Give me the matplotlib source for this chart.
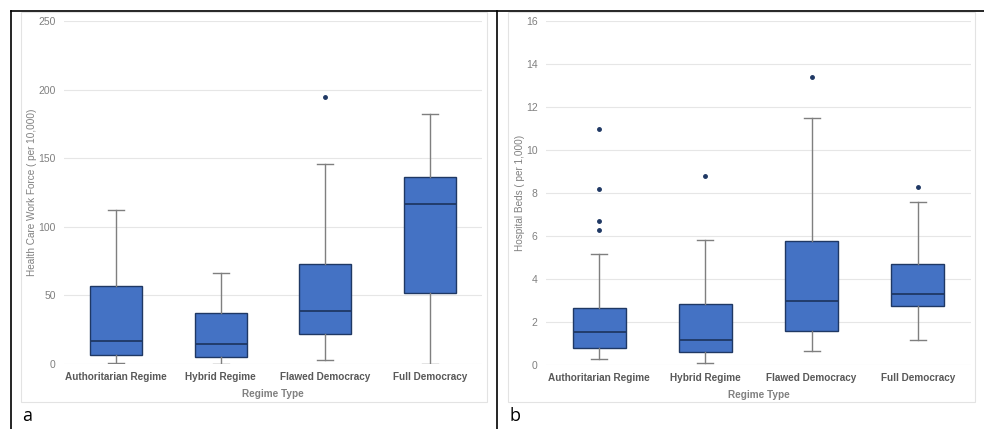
import matplotlib
matplotlib.use("Agg")
import matplotlib.pyplot as plt
from matplotlib.lines import Line2D
from matplotlib.patches import Rectangle

plt.rcParams['font.family'] = ['Liberation Sans', 'DejaVu Sans']

regimes = ["Authoritarian Regime", "Hybrid Regime", "Flawed Democracy", "Full Democracy"]

# panel a: health care work force (per 10,000)
hw_low = [0.7, 0.2, 2.9, 0.0]
hw_q1 = [6.3, 5.3, 21.6, 51.5]
hw_med = [16.5, 14.3, 38.6, 116.4]
hw_q3 = [56.6, 37.2, 72.6, 136.5]
hw_high = [112.5, 66.3, 145.5, 182.2]
hw_fliers = [[], [], [194.4], []]

# panel b: hospital beds (per 1,000)
hb_low = [0.26, 0.08, 0.67, 1.18]
hb_q1 = [0.78, 0.59, 1.57, 2.74]
hb_med = [1.52, 1.18, 2.99, 3.28]
hb_q3 = [2.66, 2.86, 5.79, 4.68]
hb_high = [5.18, 5.80, 11.51, 7.59]
hb_fliers = [[11.0, 8.18, 6.70, 6.28], [8.79], [13.39], [8.29]]

BOX = "#4472c4"
EDGE = "#1f3864"
WHISK = "#7f7f7f"
TXT = "#808080"
BOLD_TXT = "#595959"


def make_stats(low, q1, med, q3, high, fliers):
    stats = []
    for i in range(len(low)):
        stats.append({"whislo": low[i], "q1": q1[i], "med": med[i], "q3": q3[i],
                      "whishi": high[i], "fliers": fliers[i]})
    return stats


def draw_panel(ax, stats, ymax, ystep, ylabel):
    ax.bxp(stats, positions=range(len(stats)), widths=0.5, patch_artist=True,
           showfliers=True, capwidths=0.15,
           boxprops=dict(facecolor=BOX, edgecolor=EDGE, linewidth=1.0),
           medianprops=dict(color=EDGE, linewidth=1.3),
           whiskerprops=dict(color=WHISK, linewidth=1.0),
           capprops=dict(color=WHISK, linewidth=1.0),
           flierprops=dict(marker="o", markersize=2.5, markerfacecolor=EDGE,
                           markeredgecolor=EDGE))
    ax.set_xlim(-0.5, len(stats) - 0.5)
    ax.set_ylim(0, ymax)
    ax.set_yticks(range(0, ymax + 1, ystep))
    ax.yaxis.grid(True, color="#e6e6e6", linewidth=0.8)
    ax.set_axisbelow(True)
    ax.patch.set_alpha(0)
    for s in ax.spines.values():
        s.set_visible(False)
    ax.tick_params(axis="both", length=0)
    ax.tick_params(axis="y", labelsize=7.5, labelcolor=TXT, pad=6)
    ax.set_xticks(range(len(stats)))
    ax.set_xticklabels(regimes, fontsize=7.2, fontweight="bold", color=BOLD_TXT)
    ax.tick_params(axis="x", pad=6)
    ax.set_xlabel("Regime Type", fontsize=7.2, fontweight="bold", color=TXT, labelpad=5)
    ax.set_ylabel(ylabel, fontsize=7.2, color=TXT, labelpad=1)


fig = plt.figure(figsize=(9.84, 4.29), dpi=100)
W, H = 984, 429

# light grey panel frames
for x0, x1 in [(21, 487), (508, 975)]:
    fig.add_artist(Rectangle((x0 / W, 1 - 402 / H), (x1 - x0) / W, (402 - 12) / H,
                             transform=fig.transFigure, facecolor="none",
                             edgecolor="#e3e3e3", linewidth=0.8, zorder=-1))

ax1 = fig.add_axes([64 / W, 1 - 364 / H, (482 - 64) / W, (364 - 21) / H])
draw_panel(ax1, make_stats(hw_low, hw_q1, hw_med, hw_q3, hw_high, hw_fliers),
           250, 50, "Health Care Work Force ( per 10,000)")

ax2 = fig.add_axes([546 / W, 1 - 365 / H, (971 - 546) / W, (365 - 21) / H])
draw_panel(ax2, make_stats(hb_low, hb_q1, hb_med, hb_q3, hb_high, hb_fliers),
           16, 2, "Hospital Beds ( per 1,000)")

# table border lines
fig.add_artist(Line2D([11 / W, 1], [1 - 11 / H, 1 - 11 / H], color="black", linewidth=1.2))
fig.add_artist(Line2D([11 / W, 11 / W], [0, 1 - 11 / H], color="black", linewidth=1.2))
fig.add_artist(Line2D([497 / W, 497 / W], [0, 1 - 11 / H], color="black", linewidth=1.2))

fig.text(22 / W, 1 - 416 / H, "a", fontsize=13, family="Open Sans", va="center")
fig.text(509 / W, 1 - 416 / H, "b", fontsize=13, family="Open Sans", va="center")

fig.savefig("out.png", dpi=100)
